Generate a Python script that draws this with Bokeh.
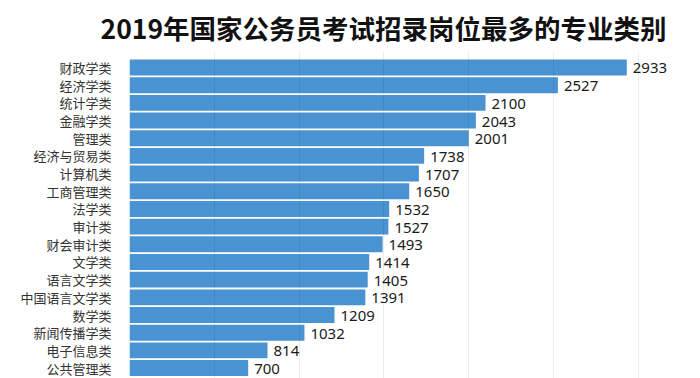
from bokeh.plotting import figure
from bokeh.models import Range1d, FixedTicker, ColumnDataSource, LabelSet
from bokeh.core.properties import value
from bokeh.embed import file_html
from bokeh.resources import INLINE

categories = ["财政学类", "经济学类", "统计学类", "金融学类", "管理类", "经济与贸易类",
              "计算机类", "工商管理类", "法学类", "审计类", "财会审计类", "文学类",
              "语言文学类", "中国语言文学类", "数学类", "新闻传播学类", "电子信息类", "公共管理类"]
values = [2933, 2527, 2100, 2043, 2001, 1738, 1707, 1650, 1532, 1527, 1493, 1414,
          1405, 1391, 1209, 1032, 814, 700]
title_text = "2019年国家公务员考试招录岗位最多的专业类别"

idx = list(range(len(categories)))
src = ColumnDataSource(dict(y=idx, v=values, lab=[str(v) for v in values]))

p = figure(width=700, height=378, output_backend="svg", toolbar_location=None,
           x_range=Range1d(0, 3250), y_range=Range1d(17.59, -0.848),
           min_border_left=129, min_border_right=20, min_border_top=52, min_border_bottom=0)
p.outline_line_color = None
p.title.text = title_text
p.title.text_font = "Noto Sans CJK SC"
p.title.text_font_size = "26.5px"
p.title.text_font_style = "bold"
p.title.text_color = "#111111"
p.title.text_line_height = 0.6
p.title.align = "left"
p.title.offset = -29
p.title.vertical_align = "top"
p.title.standoff = 8

p.hbar(y="y", right="v", left=0, height=0.9, source=src, fill_color="#4a93d2", line_color=None)

labels = LabelSet(x="v", y="y", text="lab", source=src, x_offset=6, y_offset=-1,
                  text_font=value("Noto Sans"), text_font_size=value("15px"),
                  text_color="#1a1a1a", text_baseline="middle", text_align="left")
p.add_layout(labels)

p.xaxis.visible = False
p.xaxis.ticker = FixedTicker(ticks=[0, 500, 1000, 1500, 2000, 2500, 3000])
p.xgrid.ticker = FixedTicker(ticks=[0, 500, 1000, 1500, 2000, 2500, 3000])
p.xgrid.grid_line_color = "#000000"
p.xgrid.grid_line_alpha = 0.08
p.xgrid.level = "overlay"
p.ygrid.grid_line_color = None

p.yaxis.ticker = FixedTicker(ticks=idx)
p.yaxis.major_label_overrides = {i: c for i, c in zip(idx, categories)}
p.yaxis.axis_line_color = None
p.yaxis.major_tick_line_color = None
p.yaxis.minor_tick_line_color = None
p.yaxis.major_label_text_font = "Noto Sans CJK SC"
p.yaxis.major_label_text_font_size = "13px"
p.yaxis.major_label_text_color = "#333333"
p.yaxis.major_label_standoff = 12

open("out.html", "w").write(file_html(p, INLINE))
